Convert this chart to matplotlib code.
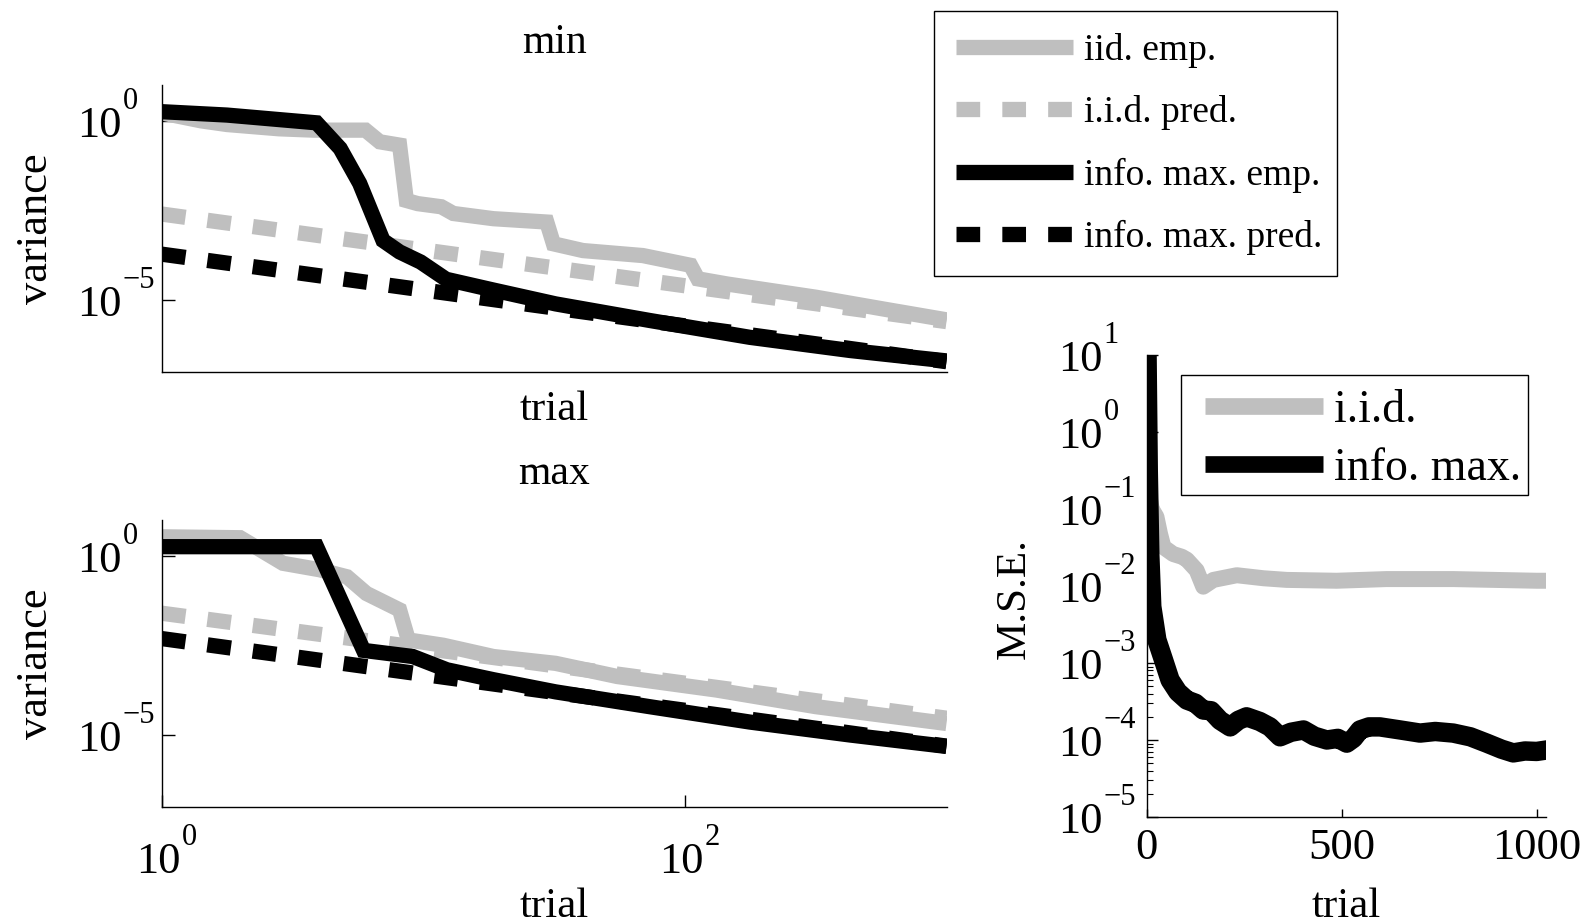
import matplotlib
matplotlib.use("Agg")
import matplotlib.pyplot as plt
from matplotlib.lines import Line2D
from matplotlib.patches import Rectangle
from matplotlib.ticker import NullLocator, FixedLocator, NullFormatter, FixedFormatter, LogLocator

plt.rcParams['font.family'] = ['Liberation Serif', 'DejaVu Serif']

GRAY = '#bfbfbf'

# ---------------- data: "min" panel ----------------
min_iid_emp_t = [1, 1.41, 1.77, 2.8, 3.8, 6.0, 6.8, 8.1, 8.6, 9.5, 11.7, 13, 18.5, 29.6, 31.4, 40.7, 69, 105, 112, 145, 316, 575, 1000]
min_iid_emp_v = [1.66, 1.0, 0.79, 0.6, 0.55, 0.55, 0.26, 0.21, 6.0e-3, 4.9e-3, 4.0e-3, 2.6e-3, 1.86e-3, 1.5e-3, 3.7e-4, 2.4e-4, 1.74e-4, 9.3e-5, 3.9e-5, 2.8e-5, 1.2e-5, 5.6e-6, 2.8e-6]
min_iid_pred_t = [1, 10, 100, 1000]
min_iid_pred_v = [2.5e-3, 2.5e-4, 2.5e-5, 2.5e-6]
min_info_emp_t = [1, 1.77, 3.9, 4.8, 5.7, 7.0, 8.1, 9.75, 12.2, 18.5, 32, 73, 177, 428, 1000]
min_info_emp_v = [1.8, 1.45, 0.88, 0.17, 1.8e-2, 4.6e-4, 2.2e-4, 1.15e-4, 3.8e-5, 1.9e-5, 7.8e-6, 2.7e-6, 9.1e-7, 3.9e-7, 2.0e-7]
min_info_pred_t = [1, 10, 100, 1000]
min_info_pred_v = [1.9e-4, 1.9e-5, 1.9e-6, 1.9e-7]

# ---------------- data: "max" panel ----------------
max_iid_emp_t = [1, 1.99, 2.9, 4.0, 5.1, 6.05, 8.1, 8.75, 11.9, 18.5, 32, 55, 132, 316, 1000]
max_iid_emp_v = [3.4, 3.2, 0.62, 0.41, 0.26, 8.9e-2, 3.1e-2, 4.5e-3, 3.2e-3, 1.55e-3, 1.0e-3, 4.3e-4, 1.8e-4, 6.2e-5, 2.1e-5]
max_iid_pred_t = [1, 10, 100, 1000]
max_iid_pred_v = [2.5e-2, 2.65e-3, 2.8e-4, 2.95e-5]
max_info_emp_t = [1, 3.9, 5.9, 9.1, 12.3, 18.5, 32, 73, 177, 428, 1000]
max_info_emp_v = [1.8, 1.8, 2.3e-3, 1.55e-3, 6.6e-4, 3.5e-4, 1.6e-4, 6.2e-5, 2.3e-5, 1.0e-5, 4.8e-6]
max_info_pred_t = [1, 10, 100, 1000]
max_info_pred_v = [4.9e-3, 4.9e-4, 4.9e-5, 4.9e-6]

# ---------------- data: M.S.E. panel ----------------
mse_iid_t = [10, 13, 25, 34, 43, 68, 90, 103, 128, 145, 171, 231, 300, 359, 487, 615, 786, 1000, 1024]
mse_iid_v = [0.12, 0.1, 7.9e-2, 4.8e-2, 3.2e-2, 2.6e-2, 2.4e-2, 2.2e-2, 1.6e-2, 9.8e-3, 1.2e-2, 1.38e-2, 1.26e-2, 1.2e-2, 1.17e-2, 1.23e-2, 1.23e-2, 1.17e-2, 1.17e-2]
mse_info_t = [1, 4, 8, 13, 26, 43, 60, 80, 103, 125, 145, 165, 188, 214, 235, 256, 290, 316, 342, 370, 402, 430, 462, 490, 513, 530, 547, 570, 598, 650, 701, 740, 786, 830, 872, 910, 940, 970, 1000, 1024]
mse_info_v = [8.9, 0.32, 2.5e-2, 5.4e-3, 2.0e-3, 1.1e-3, 6.0e-4, 4.2e-4, 3.3e-4, 3.0e-4, 2.45e-4, 2.4e-4, 1.8e-4, 1.48e-4, 1.8e-4, 2.0e-4, 1.74e-4, 1.48e-4, 1.1e-4, 1.26e-4, 1.35e-4, 1.12e-4, 1.0e-4, 1.05e-4, 9.1e-5, 1.05e-4, 1.35e-4, 1.48e-4, 1.48e-4, 1.35e-4, 1.23e-4, 1.29e-4, 1.23e-4, 1.1e-4, 9.1e-5, 7.6e-5, 6.8e-5, 7.2e-5, 7.1e-5, 7.4e-5]

var_yticks = [1e-5, 1e0]
var_yexps = ['\u22125', '0']
var_xticks = [1, 100]
var_xexps = ['0', '2']
mse_yticks = [1e-5, 1e-4, 1e-3, 1e-2, 1e-1, 1e0, 1e1]
mse_yexps = ['\u22125', '\u22124', '\u22123', '\u22122', '\u22121', '0', '1']
mse_xticks = [0, 500, 1000]
mse_xticklabels = ['0', '500', '1000']

legend1_labels = ['iid. emp.', 'i.i.d. pred.', 'info. max. emp.', 'info. max. pred.']
legend2_labels = ['i.i.d.', 'info. max.']

W, H = 1589, 924
PT = 72 / 100  # points per pixel
fig = plt.figure(figsize=(W / 100, H / 100), dpi=100)

def fr(left, top, right, bottom):
    return [left / W, 1 - bottom / H, (right - left) / W, (bottom - top) / H]

ax1 = fig.add_axes(fr(162, 85, 946.5, 371.7))
ax2 = fig.add_axes(fr(162, 520, 946.5, 806.7))
ax3 = fig.add_axes(fr(1146.7, 355, 1546, 817))

BASE = 32
EXPS = 22

def pow_label(ax, xy, trans, dx, dy, exp):
    """'10' with a raised exponent, MATLAB style; dx, dy in points (left/baseline of '10')."""
    ax.annotate('10', xy=xy, xycoords=trans, xytext=(dx, dy), textcoords='offset points',
                ha='left', va='baseline', fontsize=BASE, annotation_clip=False)
    ax.annotate(exp, xy=xy, xycoords=trans,
                xytext=(dx + BASE * 1.0 + 0.8, dy + 0.662 * BASE - 1.0),
                textcoords='offset points', ha='left', va='baseline', fontsize=EXPS,
                annotation_clip=False)

LW = 11
DASH = (1.55, 1.45)

def var_panel(ax, d, title, title_y):
    (ie_t, ie_v, ip_t, ip_v, me_t, me_v, mp_t, mp_v) = d
    h1, = ax.plot(ie_t, ie_v, color=GRAY, lw=LW, solid_capstyle='butt', solid_joinstyle='miter')
    h2, = ax.plot(ip_t, ip_v, color=GRAY, lw=LW, dashes=DASH, dash_capstyle='butt')
    h3, = ax.plot(me_t, me_v, color='black', lw=LW, solid_capstyle='butt', solid_joinstyle='miter')
    h4, = ax.plot(mp_t, mp_v, color='black', lw=LW, dashes=DASH, dash_capstyle='butt')
    ax.set_xscale('log')
    ax.set_yscale('log')
    ax.set_xlim(1, 1000)
    ax.set_ylim(1e-7, 1e1)
    ax.yaxis.set_major_locator(FixedLocator(var_yticks))
    ax.yaxis.set_major_formatter(NullFormatter())
    ax.yaxis.set_minor_locator(NullLocator())
    ax.yaxis.set_minor_formatter(NullFormatter())
    ax.xaxis.set_minor_locator(NullLocator())
    ax.xaxis.set_minor_formatter(NullFormatter())
    ax.tick_params(axis='y', direction='in', length=9, width=1, labelleft=False)
    for v, e in zip(var_yticks, var_yexps):
        pow_label(ax, (0, v), ax.get_yaxis_transform(), -(162 - 77) * PT,
                  -0.331 * BASE - 1.0, e)
    ax.text(0.5, title_y, title, transform=ax.transAxes, ha='center', va='baseline', fontsize=30)
    ax.set_ylabel('variance', fontsize=32)
    ax.yaxis.set_label_coords(-0.16, 0.5)
    ax.yaxis.label.set_va('center')
    return [h1, h2, h3, h4]

handles = var_panel(ax1, (min_iid_emp_t, min_iid_emp_v, min_iid_pred_t, min_iid_pred_v,
                          min_info_emp_t, min_info_emp_v, min_info_pred_t, min_info_pred_v), 'min', 1.113)
var_panel(ax2, (max_iid_emp_t, max_iid_emp_v, max_iid_pred_t, max_iid_pred_v,
                max_info_emp_t, max_info_emp_v, max_info_pred_t, max_info_pred_v), 'max', 1.124)

ax1.set_xticks([])
ax1.set_xlabel('trial', fontsize=31)
ax1.xaxis.set_label_coords(0.5, -0.17)
ax1.xaxis.label.set_va('baseline')

ax2.xaxis.set_major_locator(FixedLocator(var_xticks))
ax2.xaxis.set_major_formatter(NullFormatter())
ax2.tick_params(axis='x', direction='in', length=9, width=1, labelbottom=False)
for v, e in zip(var_xticks, var_xexps):
    pow_label(ax2, (v, 0), ax2.get_xaxis_transform(), -26 * PT, -66 * PT, e)
ax2.set_xlabel('trial', fontsize=31)
ax2.xaxis.set_label_coords(0.5, -0.385)
ax2.xaxis.label.set_va('baseline')

# M.S.E. panel
ax3.plot(mse_iid_t, mse_iid_v, color=GRAY, lw=11.5, solid_joinstyle='round')
ax3.plot(mse_info_t, mse_info_v, color='black', lw=14, solid_joinstyle='round')
ax3.set_yscale('log')
ax3.set_xlim(0, 1024)
ax3.set_ylim(1e-5, 1e1)
ax3.yaxis.set_major_locator(FixedLocator(mse_yticks))
ax3.yaxis.set_major_formatter(NullFormatter())
ax3.yaxis.set_minor_locator(LogLocator(base=10, subs=range(2, 10), numticks=20))
ax3.yaxis.set_minor_formatter(NullFormatter())
ax3.xaxis.set_major_locator(FixedLocator(mse_xticks))
ax3.xaxis.set_major_formatter(FixedFormatter(mse_xticklabels))
ax3.tick_params(axis='y', which='major', direction='in', length=8, width=1, labelleft=False)
ax3.tick_params(axis='y', which='minor', direction='in', length=4, width=0.8, labelleft=False)
ax3.tick_params(axis='x', direction='in', length=6, width=1, labelsize=32, pad=8)
for v, e in zip(mse_yticks, mse_yexps):
    pow_label(ax3, (0, v), ax3.get_yaxis_transform(), -(1146.7 - 1058) * PT,
              -0.331 * BASE - 1.0, e)
ax3.set_xlabel('trial', fontsize=31)
ax3.xaxis.set_label_coords(0.5, -0.216)
ax3.xaxis.label.set_va('baseline')
ax3.set_ylabel('M.S.E.', fontsize=31)
ax3.yaxis.set_label_coords(-0.33, 0.474)
ax3.yaxis.label.set_va('center')

for ax in (ax1, ax2, ax3):
    for s in ('top', 'right'):
        ax.spines[s].set_visible(False)
    for s in ('left', 'bottom'):
        ax.spines[s].set_linewidth(1)
        ax.spines[s].set_color('black')

# legend 1 (frame drawn separately so its box matches the original)
fig.legend(handles, legend1_labels, loc='upper left',
           bbox_to_anchor=(934 / W, 1 - 11 / H), bbox_transform=fig.transFigure,
           borderaxespad=0, fontsize=27, handlelength=3.1, handletextpad=0.3,
           labelspacing=0.72, borderpad=0.6, frameon=False)
fig.patches.append(Rectangle((934 / W, 1 - 276 / H), (1337 - 934) / W, (276 - 11) / H,
                             transform=fig.transFigure, facecolor='none',
                             edgecolor='black', lw=1, zorder=5))

# legend 2
leg2_handles = [Line2D([], [], color=GRAY, lw=12, solid_capstyle='butt'),
                Line2D([], [], color='black', lw=12, solid_capstyle='butt')]
ax3.legend(leg2_handles, legend2_labels, loc='upper left',
           bbox_to_anchor=(1205 / W, 1 - 390 / H), bbox_transform=fig.transFigure,
           borderaxespad=0, fontsize=33, handlelength=2.57, handletextpad=0.25,
           labelspacing=0.33, borderpad=0.0, frameon=False)
fig.patches.append(Rectangle((1181 / W, 1 - 495 / H), (1528 - 1181) / W, (495 - 375) / H,
                             transform=fig.transFigure, facecolor='none',
                             edgecolor='black', lw=1, zorder=5))

fig.savefig('out.png', dpi=100)
